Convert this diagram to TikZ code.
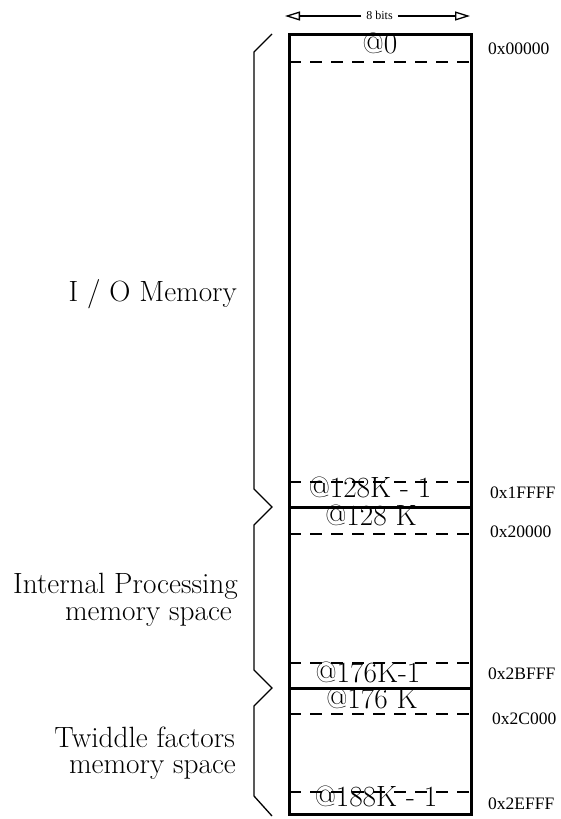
\documentclass[tikz,border=0pt]{standalone}
\usepackage{fontspec}
\newfontfamily\timesf{Liberation Serif}
\usetikzlibrary{arrows.meta}
\begin{document}
\begin{tikzpicture}[x=1pt,y=-1pt,
  boxline/.style={line width=3pt},
  sepline/.style={line width=3pt},
  dashline/.style={line width=1.3pt, dash pattern=on 12pt off 9pt},
  bracel/.style={line width=1.3pt, line join=miter},
  cell/.style={inner sep=0, anchor=base, font=\fontsize{29.3}{27}\selectfont},
  addr/.style={inner sep=0, anchor=west, font=\timesf\fontsize{17.5}{20}\selectfont},
  side/.style={inner sep=0, anchor=base east, font=\fontsize{29.3}{27}\selectfont},
  widtharrow/.style={line width=1.3pt, -{Triangle[open,length=15pt,width=9pt]}}]
\useasboundingbox (0,0) rectangle (560,819);

% memory column
\coordinate (tl) at (289,34);
\coordinate (br) at (471,814);
\draw[boxline] (tl) rectangle (br);
\draw[sepline] (289,507) -- (471,507);
\draw[sepline] (289,688) -- (471,688);
\foreach \yy in {62,482,534,663,714,792}
  \draw[dashline] (289,\yy) -- (471,\yy);

% width arrow
\node[inner sep=0, inner xsep=5pt, font=\timesf\fontsize{12}{14}\selectfont] (bits) at (379.5,15) {8 bits};
\coordinate (al) at (285,16);
\coordinate (ar) at (470,16);
\draw[widtharrow] (bits.west |- al) -- (al);
\draw[widtharrow] (bits.east |- ar) -- (ar);

% cell labels
\node[cell] (c0) at (380,53) {@0};
\node[cell] (c1) at (370,497) {@128K - 1};
\node[cell] (c2) at (371,525) {@128 K};
\node[cell] (c3) at (368,682) {@176K-1};
\node[cell] (c4) at (372,708) {@176 K};
\node[cell] (c5) at (376,806) {@188K - 1};

% addresses
\node[addr] (a0) at (488,49) {0x00000};
\node[addr] (a1) at (490,493) {0x1FFFF};
\node[addr] (a2) at (490,532) {0x20000};
\node[addr] (a3) at (488,674) {0x2BFFF};
\node[addr] (a4) at (492,719) {0x2C000};
\node[addr] (a5) at (488,804) {0x2EFFF};

% braces
\draw[bracel] (272,34) -- (254,52) -- (254,489) -- (272,507) -- (254,525)
  -- (254,670) -- (272,688) -- (254,706) -- (254,796) -- (272,816);

% side labels
\node[side] (s0) at (237,301) {I / O Memory};
\node[side] (s1) at (238,593) {Internal Processing};
\node[side] (s2) at (232,620) {memory space};
\node[side] (s3) at (235,747) {Twiddle factors};
\node[side] (s4) at (236,773) {memory space};
\end{tikzpicture}
\end{document}
